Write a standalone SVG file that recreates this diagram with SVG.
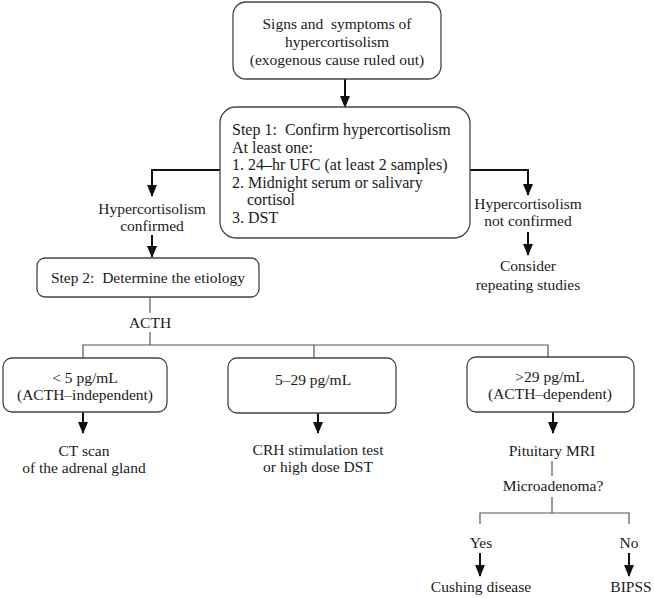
<svg xmlns="http://www.w3.org/2000/svg" width="654" height="598" viewBox="0 0 654 598">
<defs>
<marker id="ah" markerUnits="userSpaceOnUse" markerWidth="12" markerHeight="12" viewBox="0 0 12 10" refX="11" refY="5" orient="auto">
<path d="M0,0 L12,5 L0,10 z" fill="#111"/>
</marker>
<style>
.box{fill:#fff;stroke:#444;stroke-width:1.3}
.t{font-family:"Liberation Serif","Times New Roman",serif;font-size:15.5px;fill:#1a1a1a}
.s1{font-size:16px}
.c{text-anchor:middle}
.arr{fill:none;stroke:#111;stroke-width:2;marker-end:url(#ah)}
.ln{fill:none;stroke:#555;stroke-width:1.2}
</style>
</defs>
<rect width="654" height="598" fill="#fff"/>
<g id="connectors">
<path class="arr" d="M345,79 V107"/>
<path class="arr" d="M220,170 H152 V196"/>
<path class="arr" d="M470,170 H528 V195"/>
<path class="arr" d="M152,235 V257"/>
<path class="arr" d="M528,232 V255"/>
<path class="ln" d="M150,297 V313"/>
<path class="ln" d="M150,332 V345"/>
<path class="ln" d="M83,358 V345 H548 V357 M314,345 V358"/>
<path class="arr" d="M83,412 V433"/>
<path class="arr" d="M318,413 V433"/>
<path class="arr" d="M553,412 V433"/>
<path class="ln" d="M552,461 V476"/>
<path class="ln" d="M552,497 V513 M480,524 V513 H629 V524"/>
<path class="arr" d="M480,553 V576"/>
<path class="arr" d="M629,553 V576"/>
</g>
<g id="n_signs">
<rect class="box" x="233" y="2" width="208" height="77" rx="13"/>
<text class="t c" x="337" y="29" style="white-space:pre">Signs and  symptoms of</text>
<text class="t c" x="337" y="47">hypercortisolism</text>
<text class="t c" x="337" y="65">(exogenous cause ruled out)</text>
</g>
<g id="n_step1">
<rect class="box" x="220" y="107" width="250" height="131" rx="16"/>
<text class="t s1" x="232" y="135" style="white-space:pre">Step 1:  Confirm hypercortisolism</text>
<text class="t s1" x="232" y="152.5">At least one:</text>
<text class="t s1" x="232" y="170">1. 24–hr UFC (at least 2 samples)</text>
<text class="t s1" x="232" y="187.5">2. Midnight serum or salivary</text>
<text class="t s1" x="247" y="205">cortisol</text>
<text class="t s1" x="232" y="222.5">3. DST</text>
</g>
<g id="n_confirmed">
<text class="t c" x="152" y="214">Hypercortisolism</text>
<text class="t c" x="152" y="231">confirmed</text>
</g>
<g id="n_notconfirmed">
<text class="t c" x="528" y="209">Hypercortisolism</text>
<text class="t c" x="528" y="226">not confirmed</text>
</g>
<g id="n_consider">
<text class="t c" x="528" y="271">Consider</text>
<text class="t c" x="528" y="290">repeating studies</text>
</g>
<g id="n_step2">
<rect class="box" x="37" y="258" width="222" height="39" rx="8"/>
<text class="t c" x="148" y="283" style="white-space:pre">Step 2:  Determine the etiology</text>
</g>
<g id="n_acth">
<text class="t c" x="150" y="328">ACTH</text>
</g>
<g id="n_low">
<rect class="box" x="3" y="358" width="164" height="54" rx="9"/>
<text class="t c" x="85" y="383">&lt; 5 pg/mL</text>
<text class="t c" x="85" y="400">(ACTH–independent)</text>
</g>
<g id="n_mid">
<rect class="box" x="228" y="358" width="168" height="55" rx="9"/>
<text class="t c" x="313" y="385">5–29 pg/mL</text>
</g>
<g id="n_high">
<rect class="box" x="467" y="357" width="167" height="55" rx="9"/>
<text class="t c" x="550" y="382">&gt;29 pg/mL</text>
<text class="t c" x="550" y="399">(ACTH–dependent)</text>
</g>
<g id="n_ct">
<text class="t c" x="84" y="456">CT scan</text>
<text class="t c" x="84" y="473">of the adrenal gland</text>
</g>
<g id="n_crh">
<text class="t c" x="318" y="455">CRH stimulation test</text>
<text class="t c" x="318" y="472">or high dose DST</text>
</g>
<g id="n_mri">
<text class="t c" x="552" y="456">Pituitary MRI</text>
</g>
<g id="n_micro">
<text class="t c" x="553" y="491">Microadenoma?</text>
</g>
<g id="n_yes">
<text class="t c" x="481" y="548">Yes</text>
</g>
<g id="n_no">
<text class="t c" x="629" y="548">No</text>
</g>
<g id="n_cushing">
<text class="t c" x="481" y="592">Cushing disease</text>
</g>
<g id="n_bipss">
<text class="t c" x="631" y="592">BIPSS</text>
</g>
</svg>
